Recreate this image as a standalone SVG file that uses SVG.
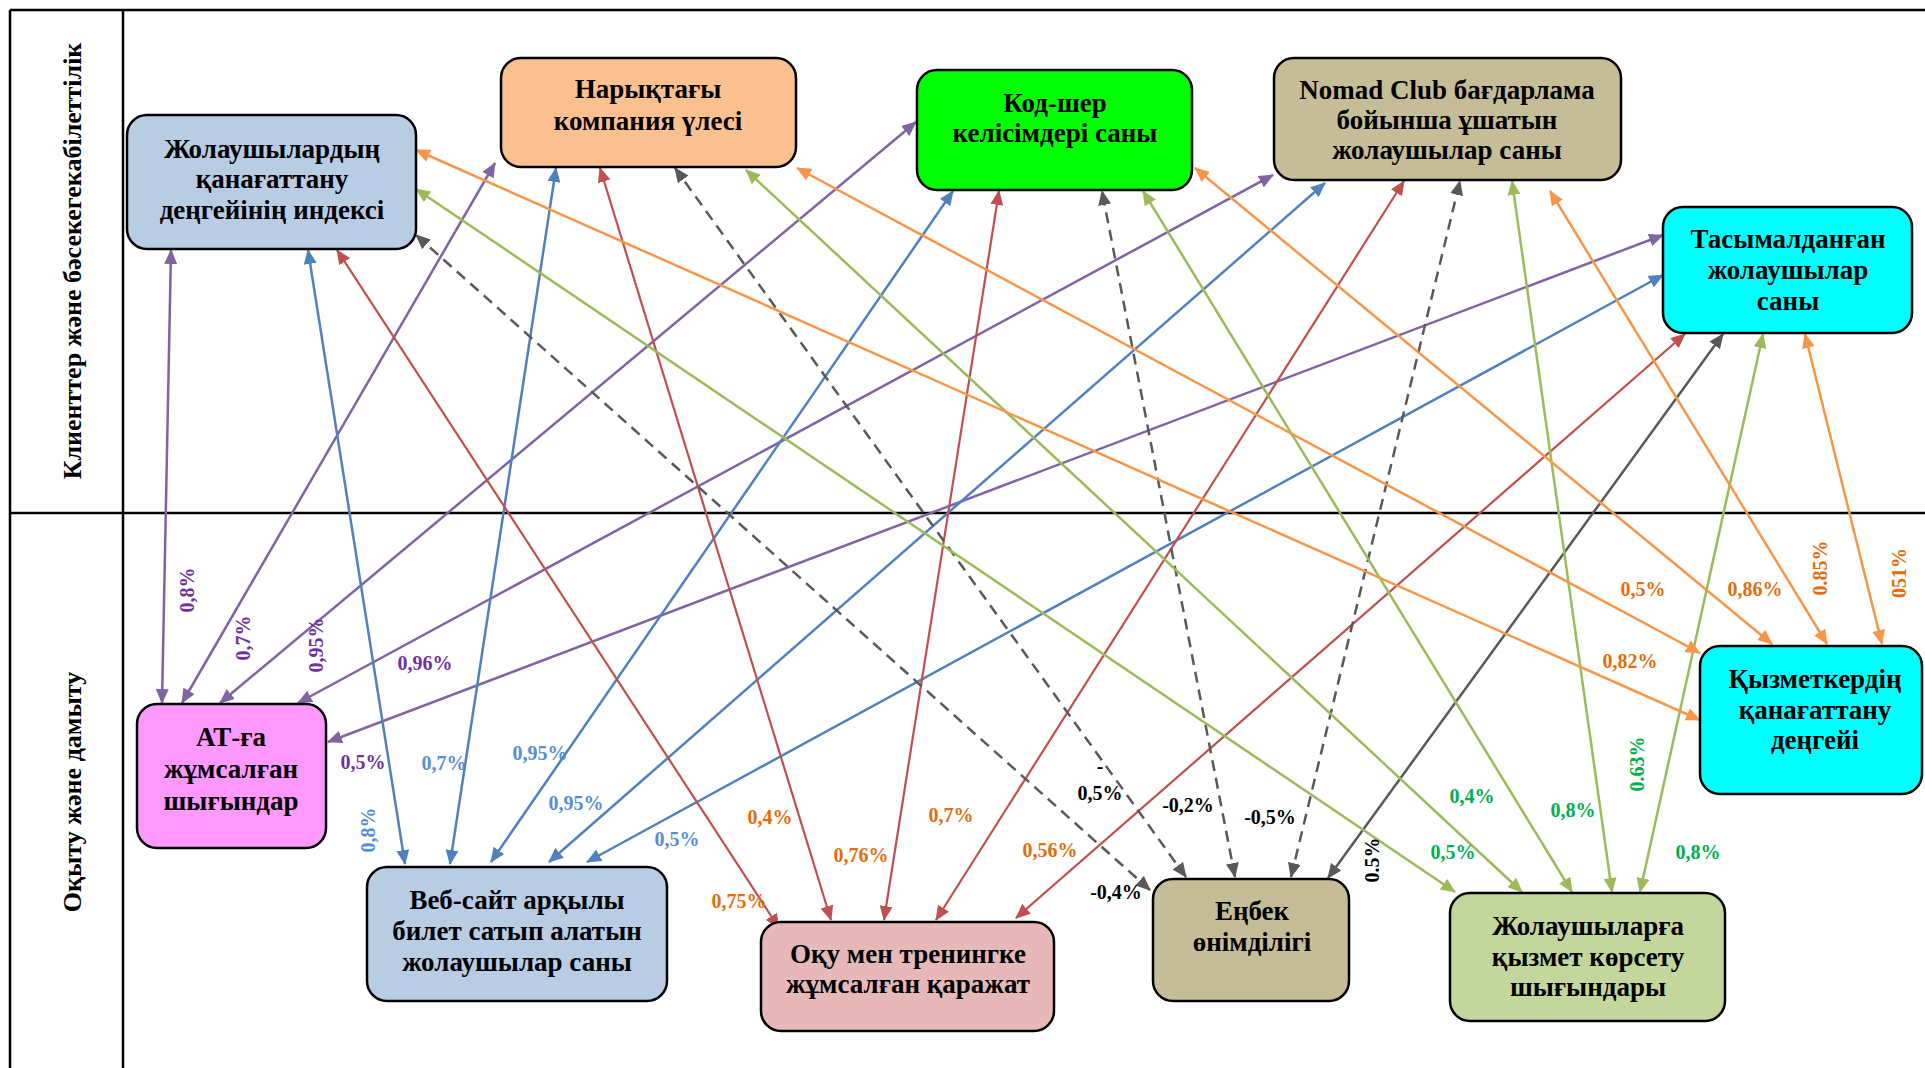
<svg xmlns="http://www.w3.org/2000/svg" width="1925" height="1068" viewBox="0 0 1925 1068">
<style>
.frame{stroke:#000;stroke-width:2.5;fill:none}
.node rect{stroke:#000;stroke-width:2.5}
.node text{font-family:"Liberation Serif","Times New Roman",serif;font-weight:bold;font-size:27px;fill:#000;text-anchor:middle}
.hdr{font-family:"Liberation Serif","Times New Roman",serif;font-weight:bold;font-size:26px;fill:#000;text-anchor:middle;dominant-baseline:central}
#connectors line{fill:none;stroke-width:2.5}
.lp{stroke:#8064a2;marker-start:url(#mp);marker-end:url(#mp)}
.lb{stroke:#4f81bd;marker-start:url(#mb);marker-end:url(#mb)}
#connectors .lr{stroke:#c0504d;stroke-width:2.2;marker-start:url(#mr);marker-end:url(#mr)}
.lg{stroke:#595959;stroke-dasharray:11 7;marker-start:url(#mg);marker-end:url(#mg)}
.ls{stroke:#595959;marker-start:url(#mg);marker-end:url(#mg)}
.lgr{stroke:#9bbb59;marker-start:url(#mgr);marker-end:url(#mgr)}
.lo{stroke:#f79646;marker-start:url(#mo);marker-end:url(#mo)}
.lbl text{font-family:"Liberation Serif","Times New Roman",serif;font-weight:bold;font-size:20px;text-anchor:middle}
.cp{fill:#7030a0}.cb{fill:#558ed5}.co{fill:#e46c0a}.ck{fill:#000}.cg{fill:#00b050}
.rot{dominant-baseline:central}
</style>
<defs>
<marker id="mp" viewBox="0 0 15 13" markerWidth="15" markerHeight="13" refX="14" refY="6.5" orient="auto-start-reverse" markerUnits="userSpaceOnUse"><path d="M0,0 L15,6.5 L0,13 z" fill="#8064a2"/></marker>
<marker id="mb" viewBox="0 0 15 13" markerWidth="15" markerHeight="13" refX="14" refY="6.5" orient="auto-start-reverse" markerUnits="userSpaceOnUse"><path d="M0,0 L15,6.5 L0,13 z" fill="#4f81bd"/></marker>
<marker id="mr" viewBox="0 0 15 13" markerWidth="15" markerHeight="13" refX="14" refY="6.5" orient="auto-start-reverse" markerUnits="userSpaceOnUse"><path d="M0,0 L15,6.5 L0,13 z" fill="#c0504d"/></marker>
<marker id="mg" viewBox="0 0 15 13" markerWidth="15" markerHeight="13" refX="14" refY="6.5" orient="auto-start-reverse" markerUnits="userSpaceOnUse"><path d="M0,0 L15,6.5 L0,13 z" fill="#595959"/></marker>
<marker id="mgr" viewBox="0 0 15 13" markerWidth="15" markerHeight="13" refX="14" refY="6.5" orient="auto-start-reverse" markerUnits="userSpaceOnUse"><path d="M0,0 L15,6.5 L0,13 z" fill="#9bbb59"/></marker>
<marker id="mo" viewBox="0 0 15 13" markerWidth="15" markerHeight="13" refX="14" refY="6.5" orient="auto-start-reverse" markerUnits="userSpaceOnUse"><path d="M0,0 L15,6.5 L0,13 z" fill="#f79646"/></marker>
</defs>
<rect width="1925" height="1068" fill="#fff"/>
<g id="frame">
<line class="frame" x1="10" y1="10" x2="1925" y2="10"/>
<line class="frame" x1="10" y1="513" x2="1925" y2="513"/>
<line class="frame" x1="10" y1="10" x2="10" y2="1068"/>
<line class="frame" x1="123" y1="10" x2="123" y2="1068"/>
<text class="hdr" transform="translate(72,261) rotate(-90)">Клиенттер және бәсекегекабілеттілік</text>
<text class="hdr" transform="translate(72,792) rotate(-90)">Оқыту және дамыту</text>
</g>
<g id="connectors">
<line class="lp" x1="162" y1="703" x2="171" y2="250"/>
<line class="lp" x1="182" y1="703" x2="495" y2="163"/>
<line class="lp" x1="220" y1="703" x2="916" y2="122"/>
<line class="lp" x1="298" y1="703" x2="1273" y2="175"/>
<line class="lp" x1="328" y1="742" x2="1663" y2="235"/>
<line class="lb" x1="405" y1="864" x2="308" y2="250"/>
<line class="lb" x1="450" y1="864" x2="556" y2="168"/>
<line class="lb" x1="491" y1="862" x2="953" y2="191"/>
<line class="lb" x1="549" y1="862" x2="1325" y2="183"/>
<line class="lb" x1="587" y1="862" x2="1663" y2="275"/>
<line class="lr" x1="779" y1="928" x2="337" y2="250"/>
<line class="lr" x1="831" y1="920" x2="600" y2="168"/>
<line class="lr" x1="884" y1="920" x2="999" y2="191"/>
<line class="lr" x1="936" y1="920" x2="1404" y2="181"/>
<line class="lr" x1="1016" y1="918" x2="1685" y2="334"/>
<line class="lg" x1="1150" y1="890" x2="416" y2="235"/>
<line class="lg" x1="1186" y1="877" x2="675" y2="168"/>
<line class="lg" x1="1235" y1="877" x2="1102" y2="191"/>
<line class="lg" x1="1291" y1="877" x2="1460" y2="181"/>
<line class="ls" x1="1328" y1="878" x2="1723" y2="334"/>
<line class="lgr" x1="1455" y1="892" x2="416" y2="189"/>
<line class="lgr" x1="1522" y1="892" x2="746" y2="170"/>
<line class="lgr" x1="1572" y1="892" x2="1143" y2="191"/>
<line class="lgr" x1="1612" y1="892" x2="1512" y2="181"/>
<line class="lgr" x1="1640" y1="892" x2="1763" y2="334"/>
<line class="lo" x1="1700" y1="720" x2="416" y2="150"/>
<line class="lo" x1="1700" y1="653" x2="797" y2="168"/>
<line class="lo" x1="1772" y1="644" x2="1195" y2="168"/>
<line class="lo" x1="1827" y1="644" x2="1550" y2="191"/>
<line class="lo" x1="1882" y1="644" x2="1805" y2="334"/>
</g>
<g id="labels" class="lbl">
<text class="cp rot" transform="translate(187,590) rotate(-90)">0,8%</text>
<text class="cp rot" transform="translate(243,638) rotate(-90)">0,7%</text>
<text class="cp rot" transform="translate(316,645) rotate(-90)">0,95%</text>
<text class="cp" x="425" y="670">0,96%</text>
<text class="cp" x="363" y="769">0,5%</text>
<text class="cb rot" transform="translate(368,830) rotate(-90)">0,8%</text>
<text class="cb" x="444" y="770">0,7%</text>
<text class="cb" x="540" y="760">0,95%</text>
<text class="cb" x="576" y="810">0,95%</text>
<text class="cb" x="677" y="846">0,5%</text>
<text class="co" x="739" y="908">0,75%</text>
<text class="co" x="770" y="824">0,4%</text>
<text class="co" x="861" y="862">0,76%</text>
<text class="co" x="951" y="822">0,7%</text>
<text class="co" x="1050" y="857">0,56%</text>
<text class="ck" x="1116" y="899">-0,4%</text>
<text class="ck" x="1100" y="773">-</text>
<text class="ck" x="1100" y="800">0,5%</text>
<text class="ck" x="1188" y="812">-0,2%</text>
<text class="ck" x="1270" y="824">-0,5%</text>
<text class="ck rot" transform="translate(1372,860) rotate(-90)">0.5%</text>
<text class="cg" x="1472" y="803">0,4%</text>
<text class="cg" x="1573" y="817">0,8%</text>
<text class="cg" x="1453" y="859">0,5%</text>
<text class="cg rot" transform="translate(1637,764) rotate(-90)">0.63%</text>
<text class="cg" x="1698" y="859">0,8%</text>
<text class="co" x="1643" y="596">0,5%</text>
<text class="co" x="1755" y="596">0,86%</text>
<text class="co" x="1630" y="668">0,82%</text>
<text class="co rot" transform="translate(1820,568) rotate(-90)">0.85%</text>
<text class="co rot" transform="translate(1899,573) rotate(-90)">051%</text>
</g>
<g id="n-passenger-index" class="node">
<rect x="127" y="115" width="289" height="134" rx="20" fill="#b8cce4"/>
<text x="272" y="158">Жолаушылардың</text>
<text x="272" y="188">қанағаттану</text>
<text x="272" y="219">деңгейінің индексі</text>
</g>
<g id="n-market-share" class="node">
<rect x="501" y="58" width="295" height="109" rx="20" fill="#fac090"/>
<text x="648" y="98">Нарықтағы</text>
<text x="648" y="130">компания үлесі</text>
</g>
<g id="n-codeshare" class="node">
<rect x="917" y="70" width="275" height="120" rx="20" fill="#00ff00"/>
<text x="1055" y="112">Код-шер</text>
<text x="1055" y="142">келісімдері саны</text>
</g>
<g id="n-nomad" class="node">
<rect x="1274" y="58" width="347" height="122" rx="20" fill="#c4bd97"/>
<text x="1447" y="99">Nomad Club бағдарлама</text>
<text x="1447" y="129">бойынша ұшатын</text>
<text x="1447" y="159">жолаушылар саны</text>
</g>
<g id="n-transported" class="node">
<rect x="1663" y="207" width="249" height="126" rx="20" fill="#00ffff"/>
<text x="1788" y="248">Тасымалданған</text>
<text x="1788" y="279">жолаушылар</text>
<text x="1788" y="310">саны</text>
</g>
<g id="n-it-costs" class="node">
<rect x="137" y="704" width="189" height="144" rx="20" fill="#ff99ff"/>
<text x="231" y="746">АТ-ға</text>
<text x="231" y="778">жұмсалған</text>
<text x="231" y="810">шығындар</text>
</g>
<g id="n-website" class="node">
<rect x="367" y="867" width="300" height="134" rx="20" fill="#b8cce4"/>
<text x="517" y="909">Веб-сайт арқылы</text>
<text x="517" y="940">билет сатып алатын</text>
<text x="517" y="971">жолаушылар саны</text>
</g>
<g id="n-training" class="node">
<rect x="761" y="922" width="293" height="109" rx="20" fill="#e6b9b8"/>
<text x="908" y="963">Оқу мен тренингке</text>
<text x="908" y="993">жұмсалған қаражат</text>
</g>
<g id="n-productivity" class="node">
<rect x="1153" y="879" width="196" height="122" rx="20" fill="#c4bd97"/>
<text x="1252" y="920">Еңбек</text>
<text x="1252" y="951">өнімділігі</text>
</g>
<g id="n-service-costs" class="node">
<rect x="1450" y="893" width="275" height="128" rx="20" fill="#c3d69b"/>
<text x="1588" y="935">Жолаушыларға</text>
<text x="1588" y="966">қызмет көрсету</text>
<text x="1588" y="996">шығындары</text>
</g>
<g id="n-employee-satisfaction" class="node">
<rect x="1700" y="646" width="222" height="148" rx="20" fill="#00ffff"/>
<text x="1815" y="688">Қызметкердің</text>
<text x="1815" y="719">қанағаттану</text>
<text x="1815" y="749">деңгейі</text>
</g>
</svg>
